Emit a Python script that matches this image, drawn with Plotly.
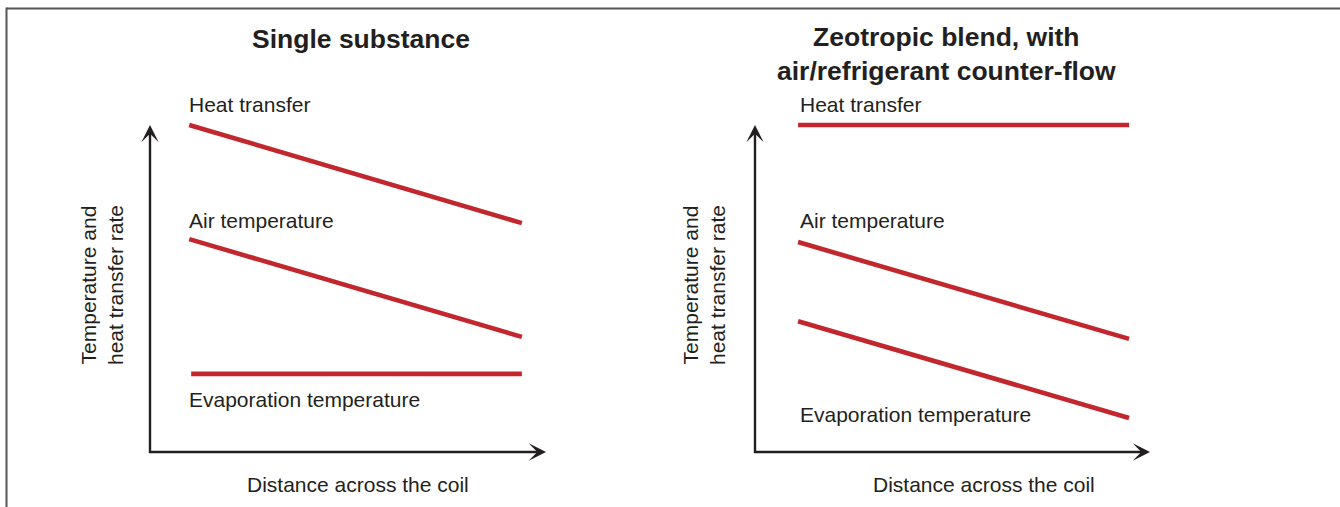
import plotly.graph_objects as go

W, H = 1340, 507

# ---- data (distance across coil, relative level 0..10) ----
left_x = [0.99, 9.39]
left_heat = [10.0, 7.0]
left_air = [6.51, 3.52]
left_evap_x = [1.04, 9.39]
left_evap = [2.39, 2.39]

right_x = [1.09, 9.47]
right_heat = [10.0, 10.0]
right_air = [6.42, 3.46]
right_evap = [4.0, 1.04]

panel_titles = ["Single substance", "Zeotropic blend, with<br>air/refrigerant counter-flow"]
series_labels = ["Heat transfer", "Air temperature", "Evaporation temperature"]
x_label = "Distance across the coil"
y_label = "Temperature and<br>heat transfer rate"

RED = "#c1272d"
INK = "#231f20"
FONT = "Liberation Sans, Arial, Helvetica, sans-serif"


def px(x):
    return x / W


def py(y):
    return 1 - y / H


fig = go.Figure()


# subplot geometry: range [-1, 11] with 0..10 mapped to axis origin..arrow tip
def dom_x(origin, tip):
    u = (tip - origin) / 10.0
    return [px(origin - u), px(tip + u)]


y0_px, ytip_px = 452, 125
uy = (y0_px - ytip_px) / 10.0
ydom = [py(y0_px + uy), py(ytip_px - uy)]

fig.update_layout(
    xaxis=dict(domain=dom_x(150, 546), range=[-1, 11], visible=False, anchor="y"),
    yaxis=dict(domain=ydom, range=[-1, 11], visible=False, anchor="x"),
    xaxis2=dict(domain=dom_x(755, 1150), range=[-1, 11], visible=False, anchor="y2"),
    yaxis2=dict(domain=ydom, range=[-1, 11], visible=False, anchor="x2"),
)

line_style = dict(color=RED, width=4.6)
fig.add_trace(go.Scatter(x=left_x, y=left_heat, mode="lines", line=line_style, xaxis="x", yaxis="y", name=series_labels[0]))
fig.add_trace(go.Scatter(x=left_x, y=left_air, mode="lines", line=line_style, xaxis="x", yaxis="y", name=series_labels[1]))
fig.add_trace(go.Scatter(x=left_evap_x, y=left_evap, mode="lines", line=line_style, xaxis="x", yaxis="y", name=series_labels[2]))
fig.add_trace(go.Scatter(x=right_x, y=right_heat, mode="lines", line=line_style, xaxis="x2", yaxis="y2", name=series_labels[0]))
fig.add_trace(go.Scatter(x=right_x, y=right_air, mode="lines", line=line_style, xaxis="x2", yaxis="y2", name=series_labels[1]))
fig.add_trace(go.Scatter(x=right_x, y=right_evap, mode="lines", line=line_style, xaxis="x2", yaxis="y2", name=series_labels[2]))

ann = []
# axis arrows
for xr, yr in (("x", "y"), ("x2", "y2")):
    ann.append(dict(x=0, y=10, ax=0, ay=-0.08, xref=xr, yref=yr, axref=xr, ayref=yr, text="",
                    showarrow=True, arrowhead=3, arrowsize=1.2, arrowwidth=2.4, arrowcolor=INK))
    ann.append(dict(x=10, y=0, ax=-0.06, ay=0, xref=xr, yref=yr, axref=xr, ayref=yr, text="",
                    showarrow=True, arrowhead=3, arrowsize=1.2, arrowwidth=2.4, arrowcolor=INK))

lab_font = dict(family=FONT, size=21, color=INK)
title_font = dict(family=FONT, size=26.5, color=INK)


def text(x, y, s, font, xanchor="left", angle=0):
    ann.append(dict(x=px(x), y=py(y), xref="paper", yref="paper", text=s, showarrow=False,
                    xanchor=xanchor, yanchor="middle", font=font, textangle=angle))


# titles
text(361, 39, "<b>%s</b>" % panel_titles[0], title_font, "center")
text(946, 54, "<b>%s</b>" % panel_titles[1].replace("<br>", "</b><br><b>"), title_font, "center")

# series labels
text(187, 105, series_labels[0], lab_font)
text(187, 220, series_labels[1], lab_font)
text(187, 399, series_labels[2], lab_font)
text(798, 105, series_labels[0], lab_font)
text(798, 220, series_labels[1], lab_font)
text(798, 414, series_labels[2], lab_font)

# axis titles
text(358, 484, x_label, lab_font, "center")
text(984, 484, x_label, lab_font, "center")
text(102, 285, y_label, lab_font, "center", -90)
text(704, 285, y_label, lab_font, "center", -90)

fig.update_layout(
    annotations=ann,
    width=W, height=H,
    margin=dict(l=0, r=0, t=0, b=0),
    paper_bgcolor="white", plot_bgcolor="rgba(0,0,0,0)",
    showlegend=False,
    shapes=[
        dict(type="line", xref="paper", yref="paper", x0=px(6.5), x1=1.0, y0=py(8.5), y1=py(8.5),
             line=dict(color="#555555", width=2)),
        dict(type="line", xref="paper", yref="paper", x0=px(6.5), x1=px(6.5), y0=py(7.5), y1=0,
             line=dict(color="#555555", width=2)),
    ],
)

fig.write_html("out.html", config={"displayModeBar": False},
               post_script="document.body.style.margin='0px';document.body.style.overflow='hidden';")
